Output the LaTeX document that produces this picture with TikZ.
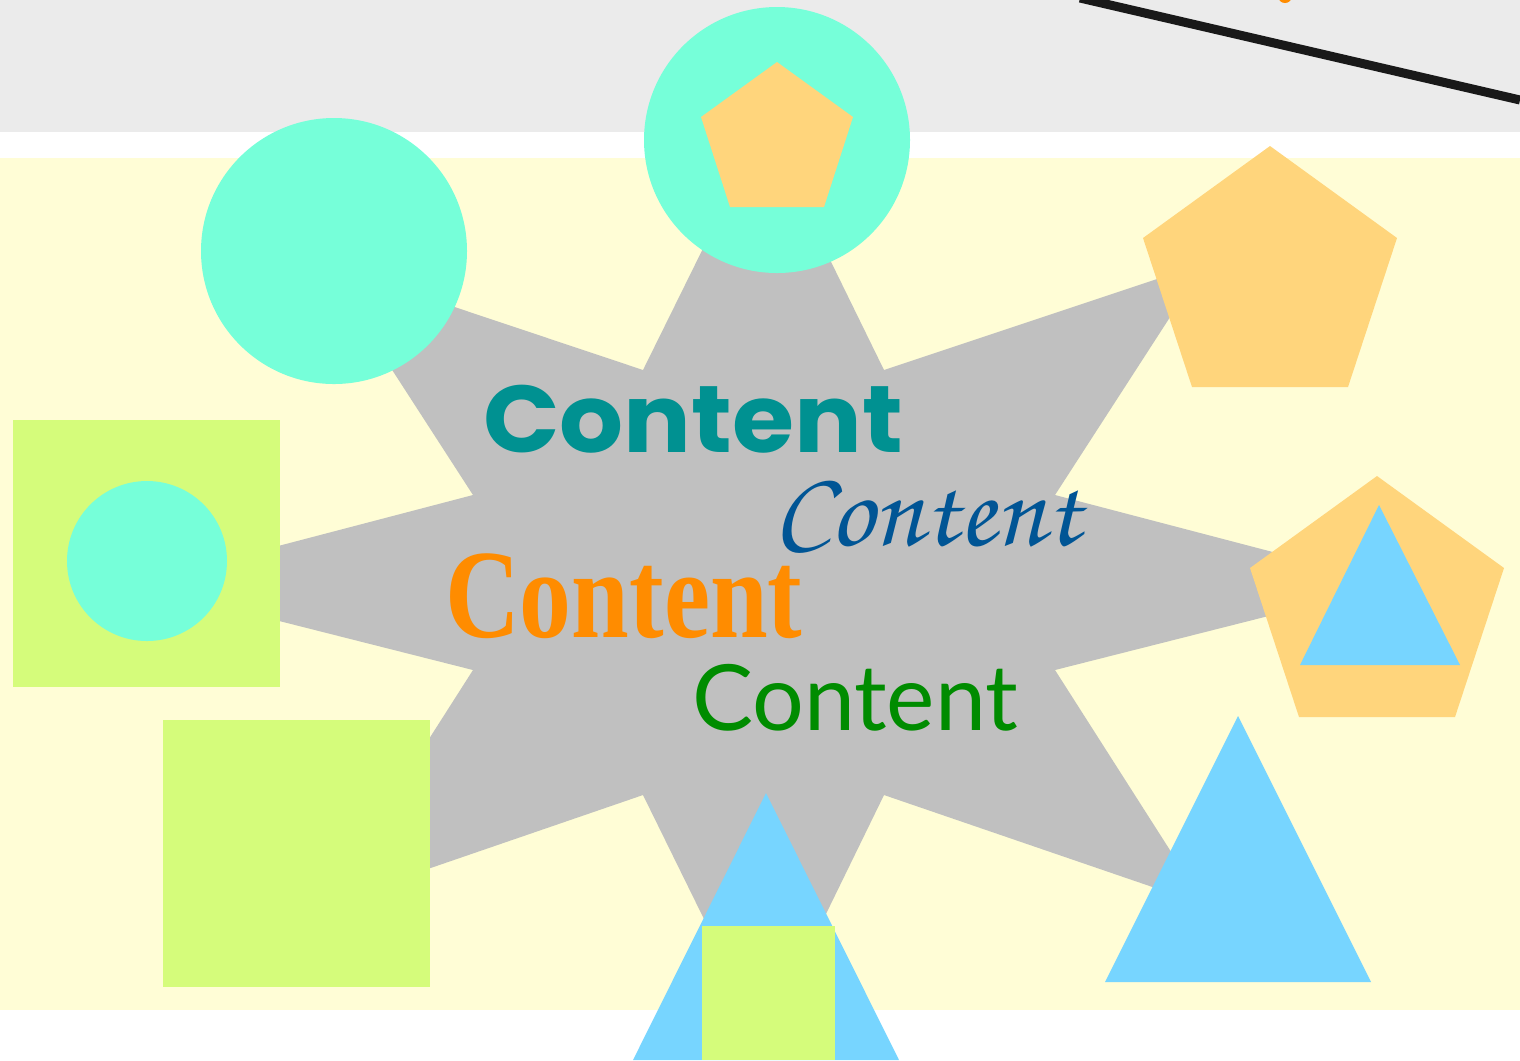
\documentclass[tikz,border=0pt]{standalone}
\usepackage{fontspec}
\newfontfamily\heavyfont{Poppins}
\newfontfamily\chancefont{texgyrechorus-mediumitalic.otf}
\newfontfamily\frakfont{Liberation Serif}
\newfontfamily\gillfont{Lato}

\definecolor{bandgray}{HTML}{EBEBEB}
\definecolor{cream}{HTML}{FFFDD6}
\definecolor{stargray}{HTML}{C0C0C0}
\definecolor{aqua}{HTML}{76FFD9}
\definecolor{lime}{HTML}{D5FC7B}
\definecolor{sand}{HTML}{FFD57C}
\definecolor{sky}{HTML}{77D5FF}
\definecolor{tealtext}{HTML}{009191}
\definecolor{bluetext}{HTML}{005595}
\definecolor{orangetext}{HTML}{FF8C00}
\definecolor{greentext}{HTML}{008C00}

\begin{document}
\begin{tikzpicture}
         [x=0.1mm,y=-0.1mm,every node/.style={anchor=base west,inner sep=0pt,outer sep=0pt}]
         \useasboundingbox (0,0) rectangle (1520,1060);
         \clip (0,0) rectangle (1520,1060);

         % background bands
         \fill[bandgray] (0,0) rectangle (1520,132);
         \fill[cream] (0,158) rectangle (1520,1010);
         \draw[line width=0.9mm,black!90] (1080,-2) -- (1520,100);
         \fill[orangetext] (1285,-4) circle (7);

         % the star
         \fill[stargray] (764,125) -- (884,370) -- (1205,263) -- (1055,495) -- (1395,584)
             -- (1055,670) -- (1205,905) -- (884,795) -- (764,1041) -- (643,795)
             -- (323,905) -- (473,670) -- (133,584) -- (473,495) -- (323,263)
             -- (643,370) -- cycle;

         % circles
         \fill[aqua] (777,140) circle (133);
         \fill[sand] (777,62) -- (853,117) -- (824,207) -- (730,207) -- (701,117) -- cycle;
         \fill[aqua] (334,251) circle (133);

         % squares
         \fill[lime] (13,420) rectangle (280,687);
         \fill[aqua] (147,561) circle (80);
         \fill[lime] (163,720) rectangle (430,987);

         % pentagons
         \fill[sand] (1270,146) -- (1397,238) -- (1348,387) -- (1192,387) -- (1143,238) -- cycle;
         \fill[sand] (1377,476) -- (1504,568) -- (1455,717) -- (1299,717) -- (1250,568) -- cycle;
         \fill[sky] (1379,505) -- (1460,665) -- (1300,665) -- cycle;

         % triangles
         \fill[sky] (1238,716) -- (1371,982) -- (1105,982) -- cycle;
         \fill[sky] (766,793) -- (899,1060) -- (633,1060) -- cycle;
         \fill[lime] (702,926) rectangle (835,1060);

         % texts
         \node[text=tealtext] (nHeavy) at (483,452) {\scalebox{1.06}[1]{\heavyfont\bfseries\fontsize{27}{30}\selectfont Content}};
         \node[text=bluetext] (nScript) at (773,545) {\chancefont\fontsize{31}{36}\selectfont Content};
         \node[text=orangetext] (nFrak) at (445,637) {\scalebox{0.82}[1]{\frakfont\bfseries\fontsize{36}{40}\selectfont Content}};
         \node[text=greentext] (nGill) at (692,730) {\gillfont\fontsize{26}{30}\selectfont Content};

     \end{tikzpicture}
\end{document}
